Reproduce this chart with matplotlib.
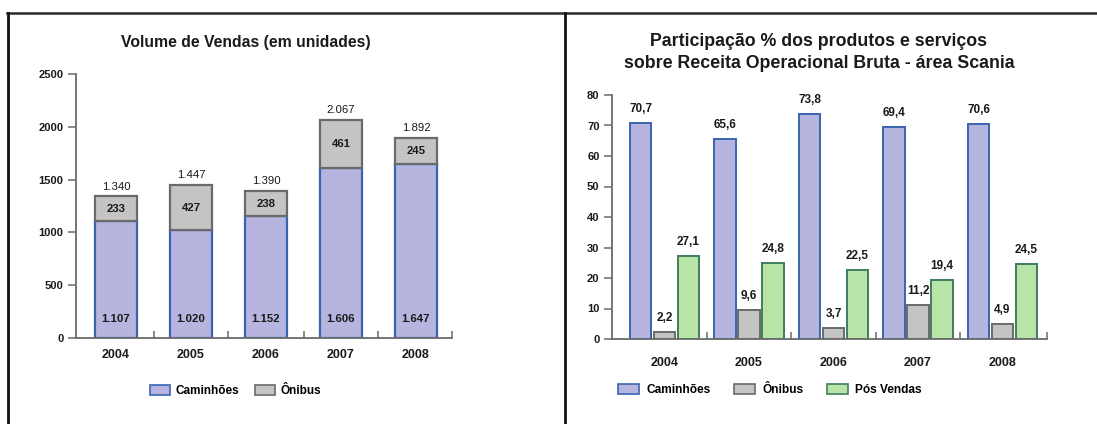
import matplotlib
matplotlib.use("Agg")
import matplotlib.pyplot as plt
from matplotlib.lines import Line2D
from matplotlib.patches import Patch
import numpy as np

plt.rcParams['font.family'] = ['Liberation Sans', 'DejaVu Sans']

years = ['2004', '2005', '2006', '2007', '2008']
vol_caminhoes = [1107, 1020, 1152, 1606, 1647]
vol_onibus = [233, 427, 238, 461, 245]
vol_total_labels = ['1.340', '1.447', '1.390', '2.067', '1.892']
vol_cam_labels = ['1.107', '1.020', '1.152', '1.606', '1.647']
vol_oni_labels = ['233', '427', '238', '461', '245']

part_caminhoes = [70.7, 65.6, 73.8, 69.4, 70.6]
part_onibus = [2.2, 9.6, 3.7, 11.2, 4.9]
part_posvendas = [27.1, 24.8, 22.5, 19.4, 24.5]

W, H = 1097, 424
fig = plt.figure(figsize=(W / 100, H / 100), dpi=100)

C_CAM, E_CAM = '#b5b5e0', '#3a64b0'
C_ONI, E_ONI = '#c4c4c4', '#6a6a6a'
C_POS, E_POS = '#b8e4a8', '#3e7e5e'
AX_COL = '#6a6a6a'
TXT = '#1a1a1a'


def px_axes(x0, x1, y_top, y_bot):
    return fig.add_axes([x0 / W, 1 - y_bot / H, (x1 - x0) / W, (y_bot - y_top) / H])


def style_axes(ax, xright, pad):
    for s in ['top', 'right']:
        ax.spines[s].set_visible(False)
    for s in ['left', 'bottom']:
        ax.spines[s].set_color(AX_COL)
        ax.spines[s].set_linewidth(1.3)
    ax.tick_params(axis='y', direction='out', length=6, width=1.1, color=AX_COL,
                   labelsize=8, labelcolor=TXT, pad=3)
    for lab in ax.get_yticklabels():
        lab.set_fontweight('bold')
    x = np.arange(len(years))
    ax.set_xticks(x)
    ax.set_xticklabels(years, fontsize=9, fontweight='bold', color=TXT)
    ax.tick_params(axis='x', which='major', length=0, pad=pad)
    ax.set_xticks(list(x[:-1] + 0.5) + [xright], minor=True)
    ax.tick_params(axis='x', which='minor', direction='in', length=5, width=1.1, color=AX_COL)


# ---------- Left chart ----------
ax1 = px_axes(76, 452, 74, 338)
x = np.arange(len(years))
bw = 0.55
ax1.bar(x, vol_caminhoes, bw, color=C_CAM, edgecolor=E_CAM, linewidth=1.6, zorder=2)
ax1.bar(x, vol_onibus, bw, bottom=vol_caminhoes, color=C_ONI, edgecolor=E_ONI,
        linewidth=1.6, zorder=2)
ax1.set_ylim(0, 2500)
xr1 = (452 - 116) / 75
ax1.set_xlim(-(116 - 76) / 75, xr1)
ax1.set_yticks([0, 500, 1000, 1500, 2000, 2500])
style_axes(ax1, xr1, 8)
for i in range(len(years)):
    tot = vol_caminhoes[i] + vol_onibus[i]
    ax1.annotate(vol_total_labels[i], (i, tot), xytext=(0, 7), textcoords='offset points',
                 ha='center', va='center', fontsize=8.2, color=TXT)
    ax1.text(i, vol_caminhoes[i] + vol_onibus[i] / 2, vol_oni_labels[i], ha='center',
             va='center', fontsize=8.2, fontweight='bold', color=TXT)
    ax1.annotate(vol_cam_labels[i], (i, 0), xytext=(0, 13.5), textcoords='offset points',
                 ha='center', va='center', fontsize=8.2, fontweight='bold', color=TXT)

fig.text(246 / W, 1 - 42 / H, 'Volume de Vendas (em unidades)', ha='center', va='center',
         fontsize=11.3, fontweight='bold', color=TXT)

h1 = [Patch(facecolor=C_CAM, edgecolor=E_CAM, linewidth=1.2),
      Patch(facecolor=C_ONI, edgecolor=E_ONI, linewidth=1.2)]
fig.legend(h1, ['Caminhões', 'Ônibus'], loc='center left',
           bbox_to_anchor=(150 / W, 1 - 391 / H), ncol=2, frameon=False,
           prop={'size': 8.5, 'weight': 'bold'}, handlelength=1.7, handleheight=0.9,
           handletextpad=0.45, columnspacing=1.35, borderpad=0, borderaxespad=0)

# ---------- Right chart ----------
ax2 = px_axes(612, 1047, 95, 339)
bw2 = 0.25
off = 0.284
ax2.bar(x - off, part_caminhoes, bw2, color=C_CAM, edgecolor=E_CAM, linewidth=1.4, zorder=2)
ax2.bar(x, part_onibus, bw2, color=C_ONI, edgecolor=E_ONI, linewidth=1.4, zorder=2)
ax2.bar(x + off, part_posvendas, bw2, color=C_POS, edgecolor=E_POS, linewidth=1.4, zorder=2)
ax2.set_ylim(0, 80)
xr2 = (1047 - 664.5) / 84.5
ax2.set_xlim(-(664.5 - 612) / 84.5, xr2)
ax2.set_yticks(range(0, 81, 10))
style_axes(ax2, xr2, 13)


def fmt(v):
    return f'{v:.1f}'.replace('.', ',')


for series, dx in ((part_caminhoes, -off), (part_onibus, 0), (part_posvendas, off)):
    for i, v in enumerate(series):
        ax2.annotate(fmt(v), (i + dx, v), xytext=(0, 10), textcoords='offset points',
                     ha='center', va='center', fontsize=8.5, fontweight='bold', color=TXT)

fig.text(819 / W, 1 - 42 / H, 'Participação % dos produtos e serviços', ha='center',
         va='center', fontsize=12.8, fontweight='bold', color=TXT)
fig.text(819 / W, 1 - 63.5 / H, 'sobre Receita Operacional Bruta - área Scania', ha='center',
         va='center', fontsize=12.8, fontweight='bold', color=TXT)

h2 = [Patch(facecolor=C_CAM, edgecolor=E_CAM, linewidth=1.2),
      Patch(facecolor=C_ONI, edgecolor=E_ONI, linewidth=1.2),
      Patch(facecolor=C_POS, edgecolor=E_POS, linewidth=1.2)]
fig.legend(h2, ['Caminhões', 'Ônibus', 'Pós Vendas'], loc='center left',
           bbox_to_anchor=(618 / W, 1 - 390 / H), ncol=3, frameon=False,
           prop={'size': 8.6, 'weight': 'bold'}, handlelength=1.75, handleheight=0.9,
           handletextpad=0.6, columnspacing=2.0, borderpad=0, borderaxespad=0)

# ---------- Frame lines ----------
fig.add_artist(Line2D([7 / W, 1.0], [1 - 12.5 / H] * 2, color='#2a2a2a', lw=1.8,
                      transform=fig.transFigure))
fig.add_artist(Line2D([7.5 / W] * 2, [1 - 12.5 / H, 0], color='#111111', lw=2.0,
                      transform=fig.transFigure))
fig.add_artist(Line2D([565 / W] * 2, [1 - 12.5 / H, 0], color='#111111', lw=2.0,
                      transform=fig.transFigure))

fig.savefig('out.png', dpi=100)
